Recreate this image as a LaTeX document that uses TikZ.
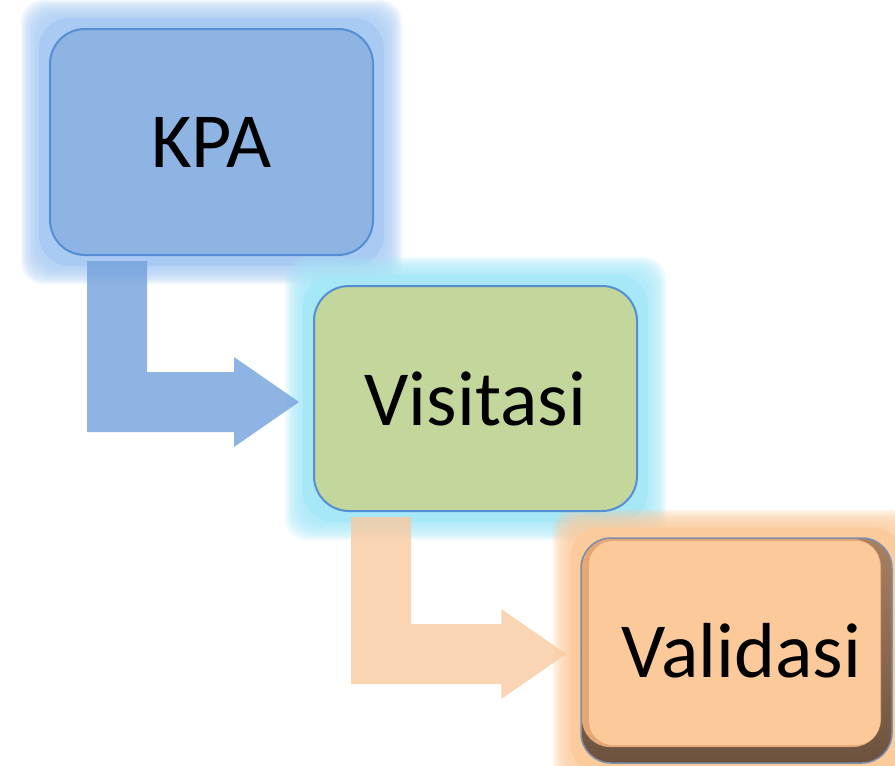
\documentclass[tikz,border=0pt]{standalone}
\usepackage{fontspec}
\setmainfont{Carlito}
\usetikzlibrary{calc}

\pgfdeclarelayer{glowlayer}
\pgfdeclarelayer{arrowlayer}
\pgfsetlayers{glowlayer,arrowlayer,main}

\definecolor{kpafill}{HTML}{8EB4E3}
\definecolor{boxline}{HTML}{558ED5}
\definecolor{kpaglow}{HTML}{A9CBF3}
\definecolor{visfill}{HTML}{C3D69B}
\definecolor{visglow}{HTML}{A6E7F8}
\definecolor{valface}{HTML}{FCC99A}
\definecolor{valmid}{HTML}{E6A777}
\definecolor{valtop}{HTML}{A98061}
\definecolor{valbottom}{HTML}{6C523E}
\definecolor{valglow}{HTML}{FBCB9C}
\definecolor{valrim}{HTML}{7F8FAB}
\definecolor{bluearrow}{RGB}{114,161,220}
\definecolor{peacharrow}{RGB}{249,202,161}

% soft halo behind a node: a solid band fading outwards
\newcommand\halo[2]{%
  \foreach \d in {28,26,...,12}{%
    \fill[#2, fill opacity=0.18, rounded corners=22]
      ($(#1.north west)+(-\d,-\d)$) rectangle ($(#1.south east)+(\d,\d)$);
  }%
  \fill[#2, rounded corners=30]
    ($(#1.north west)+(-10,-10)$) rectangle ($(#1.south east)+(10,10)$);
}

% bent block arrow from the bottom of one box to the left side of the next
\newcommand\bentarrow[3]{%
  \fill[#3, fill opacity=0.8]
    let \p1=($(#1.south west)+(38,5)$), \p2=($(#2.west)+(-14,3.5)$) in
    (\x1,\y1) -- (\x1+60,\y1) -- (\x1+60,\y2+30) -- (\x2-65,\y2+30)
    -- (\x2-65,\y2+45) -- (\x2,\y2) -- (\x2-65,\y2-45) -- (\x2-65,\y2-30)
    -- (\x1,\y2-30) -- cycle;
}

\tikzset{
  stage/.style={rectangle, rounded corners=35, draw=boxline, line width=2,
    minimum width=323, minimum height=226, inner sep=0,
    font=\fontsize{78}{90}\selectfont},
}

\begin{document}
\begin{tikzpicture}[x=1pt,y=-1pt]
\useasboundingbox (0,0) rectangle (895,766);

\node[stage, fill=kpafill] (kpa) at (211.5,142) {KPA};
\node[stage, fill=visfill, minimum height=225] (vis) at (475.5,398.5) {Visitasi};
% raised button: brown bevel below and right, light face on top
\node[stage, draw=valrim, line width=1.5, rounded corners=30,
  top color=valtop, bottom color=valbottom,
  minimum width=311, minimum height=225,
  path picture={
    \fill[valmid, rounded corners=28]
      ($(path picture bounding box.north west)+(1,1)$) rectangle
      ($(path picture bounding box.south east)+(-11,-16)$);
    \fill[valface, rounded corners=24]
      ($(path picture bounding box.north west)+(8,3)$) rectangle
      ($(path picture bounding box.south east)+(-12,-18)$);
  }] (val) at (736.5,650.5) {\kern10pt Validasi};

\begin{pgfonlayer}{glowlayer}
  \halo{kpa}{kpaglow}
  \halo{vis}{visglow}
  \halo{val}{valglow}
\end{pgfonlayer}

\begin{pgfonlayer}{arrowlayer}
  \bentarrow{kpa}{vis}{bluearrow}
  \bentarrow{vis}{val}{peacharrow}
\end{pgfonlayer}
\end{tikzpicture}
\end{document}
